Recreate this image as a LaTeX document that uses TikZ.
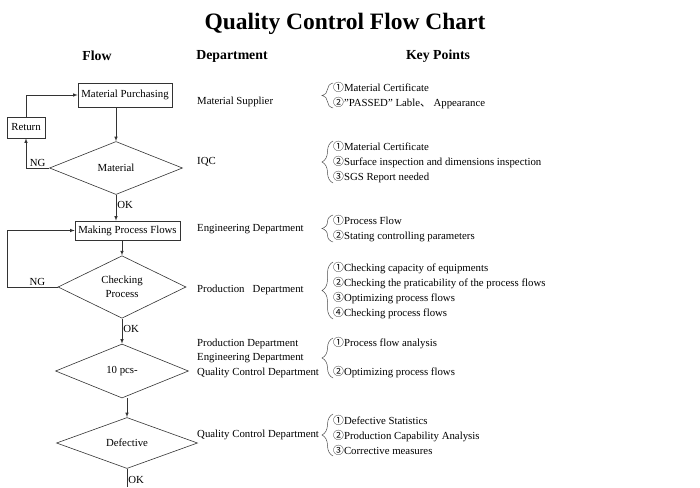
\documentclass[tikz,border=0pt]{standalone}
\usepackage{fontspec}
\setmainfont{Liberation Serif}
\newfontfamily\cjk{Noto Sans CJK SC}
\usetikzlibrary{shapes.geometric,decorations.pathreplacing}
\newcommand{\cn}[1]{{\cjk #1}}

\begin{document}
\begin{tikzpicture}[x=1pt,y=-1pt,>=latex,
	line/.style={draw=black!80, line width=0.6pt},
	box/.style={line, inner sep=0pt, font=\fontsize{10.8}{12}\selectfont},
	dia/.style={line, diamond, inner sep=0pt, align=center, font=\fontsize{10.8}{13.5}\selectfont},
	lbl/.style={anchor=west, inner sep=0pt, align=left, font=\fontsize{10.8}{15}\selectfont},
	tag/.style={inner sep=1pt, font=\fontsize{10.8}{12}\selectfont},
	head/.style={font=\bfseries\fontsize{13.8}{16}\selectfont},
	brc/.style={draw=black!70, line width=0.5pt, decorate, decoration={brace, amplitude=11pt}}]
\useasboundingbox (0,0) rectangle (700,487);
% title and column heads
\node(title) at (345,24) {\bfseries\fontsize{23.5}{28}\selectfont Quality Control Flow Chart};
\node[head] (hflow) at (97,56) {Flow};
\node[head] (hdep) at (232,56) {Department};
\node[head] (hkey) at (438,56) {Key Points};
% flow
\node[box, minimum width=94pt, minimum height=24pt] (mp) at (125,95) {Material Purchasing};
\node[box, minimum width=38pt, minimum height=21pt] (ret) at (26,127.5) {Return};
\node[dia, minimum width=133pt, minimum height=53pt] (mat) at (116,168) {Material};
\node[box, minimum width=105pt, minimum height=19pt] (mpf) at (127.5,230.5) {Making Process Flows};
\node[dia, minimum width=128pt, minimum height=55pt] (cp) at (122,287) {Checking\\Process};
\node[dia, minimum width=133pt, minimum height=54pt] (pcs) at (122,371) {10 pcs-};
\node[dia, minimum width=141pt, minimum height=51pt] (def) at (127,443) {Defective};
\coordinate(lp) at (7,287);
\coordinate(fin) at (127,487);
\draw[line,->] (mp.south -| mat.north) -- (mat.north);
\draw[line,->] (mat.west) -- node[tag,above]{NG} (mat.west -| ret.south) -- (ret.south);
\draw[line,->] (ret.north) |- (mp.west);
\draw[line,->] (mat.south) -- node[tag,right,pos=0.4]{OK} (mat.south |- mpf.north);
\draw[line,->] (mpf.south -| cp.north) -- (cp.north);
\draw[line,->] (cp.west) -- node[tag,above,pos=0.4]{NG} (lp) |- (mpf.west);
\draw[line,->] (cp.south) -- node[tag,right,pos=0.4]{OK} (pcs.north);
\draw[line,->] (pcs.south -| def.north) -- (def.north);
\draw[line] (def.south) -- node[tag,right,pos=0.6]{OK} (fin);
% departments
\node[lbl] (d1) at (197,102) {Material Supplier};
\node[lbl] (d2) at (197,162) {IQC};
\node[lbl] (d3) at (197,229) {Engineering Department};
\node[lbl] (d4) at (197,290) {Production\ \ \ Department};
\node[lbl, font=\fontsize{10.8}{14.5}\selectfont] (d5) at (197,358) {Production Department\\Engineering Department\\Quality Control Department};
\node[lbl] (d6) at (197,435) {Quality Control Department};
% key points
\node[lbl] (k1) at (333,95.5) {\cn{①}Material Certificate\\\cn{②}"PASSED" Lable\cn{、} Appearance};
\node[lbl] (k2) at (333,162) {\cn{①}Material Certificate\\\cn{②}Surface inspection and dimensions inspection\\\cn{③}SGS Report needed};
\node[lbl] (k3) at (333,229) {\cn{①}Process Flow\\\cn{②}Stating controlling parameters};
\node[lbl] (k4) at (333,290.5) {\cn{①}Checking capacity of equipments\\\cn{②}Checking the praticability of the process flows\\\cn{③}Optimizing process flows\\\cn{④}Checking process flows};
\node[lbl] (k5) at (333,357.5) {\cn{①}Process flow analysis\\[14pt]\cn{②}Optimizing process flows};
\node[lbl] (k6) at (333,435) {\cn{①}Defective Statistics\\\cn{②}Production Capability Analysis\\\cn{③}Corrective measures};
\draw[brc] (333,108) -- (333,83);
\draw[brc] (333,183) -- (333,141);
\draw[brc] (333,242) -- (333,215);
\draw[brc] (333,319) -- (333,262);
\draw[brc] (333,378) -- (333,338);
\draw[brc] (333,456) -- (333,414);
\end{tikzpicture}
\end{document}
